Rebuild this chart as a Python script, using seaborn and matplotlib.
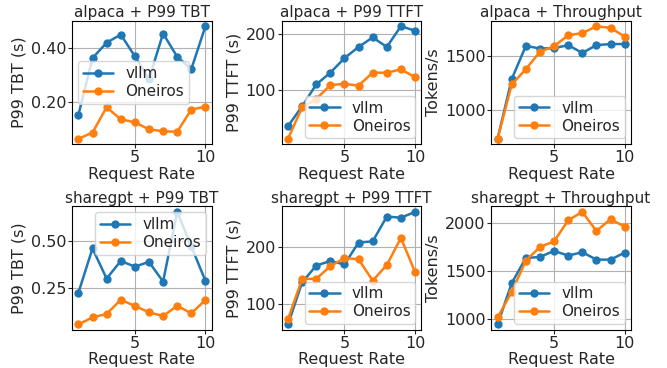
import numpy as np
import pandas as pd
import matplotlib
matplotlib.use("Agg")
import matplotlib.pyplot as plt
import seaborn as sns

sns.set_style("whitegrid", {"axes.edgecolor": "black", "grid.color": "#b0b0b0",
                            "xtick.bottom": True, "ytick.left": True})
plt.rcParams['font.family'] = ['DejaVu Sans']

rates = [1, 2, 3, 4, 5, 6, 7, 8, 9, 10]

alpaca_tbt_vllm = [0.151, 0.362, 0.419, 0.449, 0.369, 0.284, 0.453, 0.367, 0.321, 0.480]
alpaca_tbt_oneiros = [0.063, 0.086, 0.180, 0.135, 0.124, 0.098, 0.091, 0.089, 0.171, 0.182]

alpaca_ttft_vllm = [34.5, 70, 109, 130, 156, 176, 193, 176, 213, 205]
alpaca_ttft_oneiros = [12, 68, 83, 108, 110, 107, 130, 130, 136, 122]

alpaca_tp_vllm = [738, 1284, 1588, 1564, 1567, 1595, 1524, 1595, 1605, 1605]
alpaca_tp_oneiros = [738, 1235, 1375, 1534, 1585, 1686, 1704, 1768, 1753, 1674]

sharegpt_tbt_vllm = [0.222, 0.459, 0.298, 0.392, 0.362, 0.387, 0.282, 0.654, 0.47, 0.286]
sharegpt_tbt_oneiros = [0.053, 0.091, 0.109, 0.185, 0.152, 0.118, 0.098, 0.153, 0.113, 0.183]

sharegpt_ttft_vllm = [65, 138, 167, 175, 169, 207, 209, 252, 250, 260]
sharegpt_ttft_oneiros = [74, 144, 144, 166, 180, 178, 141, 168, 215, 156]

sharegpt_tp_vllm = [941, 1371, 1632, 1643, 1706, 1657, 1692, 1615, 1615, 1688]
sharegpt_tp_oneiros = [1014, 1279, 1605, 1747, 1805, 2024, 2111, 1913, 2035, 1958]

titles = ["alpaca + P99 TBT", "alpaca + P99 TTFT", "alpaca + Throughput",
          "sharegpt + P99 TBT", "sharegpt + P99 TTFT", "sharegpt + Throughput"]
ylabels = ["P99 TBT (s)", "P99 TTFT (s)", "Tokens/s"] * 2
series = [(alpaca_tbt_vllm, alpaca_tbt_oneiros), (alpaca_ttft_vllm, alpaca_ttft_oneiros),
          (alpaca_tp_vllm, alpaca_tp_oneiros), (sharegpt_tbt_vllm, sharegpt_tbt_oneiros),
          (sharegpt_ttft_vllm, sharegpt_ttft_oneiros), (sharegpt_tp_vllm, sharegpt_tp_oneiros)]
yticks = [[0.20, 0.40], [100, 200], [1000, 1500], [0.25, 0.50], [100, 200], [1000, 1500, 2000]]
yfmt = ["{:.2f}", "{:.0f}", "{:.0f}", "{:.2f}", "{:.0f}", "{:.0f}"]
legend_loc = ["center left", "lower right", "lower right", "upper right", "lower right", "lower right"]

fig, axes = plt.subplots(2, 3, figsize=(6.67, 3.68), dpi=100)
fig.subplots_adjust(left=0.108, right=0.946, bottom=0.103, top=0.944, wspace=0.5, hspace=0.5)

for i, ax in enumerate(axes.flat):
    v, o = series[i]
    sns.lineplot(x=rates, y=v, ax=ax, marker="o", color="#1f77b4", label="vllm",
                 linewidth=1.8, markersize=6, markeredgewidth=0)
    sns.lineplot(x=rates, y=o, ax=ax, marker="o", color="#ff7f0e", label="Oneiros",
                 linewidth=1.8, markersize=6, markeredgewidth=0)
    ax.set_title(titles[i], fontsize=11, pad=2.5)
    ax.set_xlabel("Request Rate", fontsize=11.5, labelpad=1)
    ax.set_ylabel(ylabels[i], fontsize=11.5, labelpad=3)
    ax.set_xticks([5, 10])
    ax.set_yticks(yticks[i])
    ax.set_yticklabels([yfmt[i].format(t) for t in yticks[i]])
    ax.tick_params(labelsize=11.5, length=3.2, width=0.8, pad=1)
    ax.margins(x=0.05, y=0.05)
    for s in ax.spines.values():
        s.set_color("black")
        s.set_linewidth(0.8)
    ax.legend(loc=legend_loc[i], fontsize=11, handlelength=2, borderpad=0.3,
              labelspacing=0.2, handletextpad=0.8, borderaxespad=0.4)

fig.savefig("out.png", dpi=100)
